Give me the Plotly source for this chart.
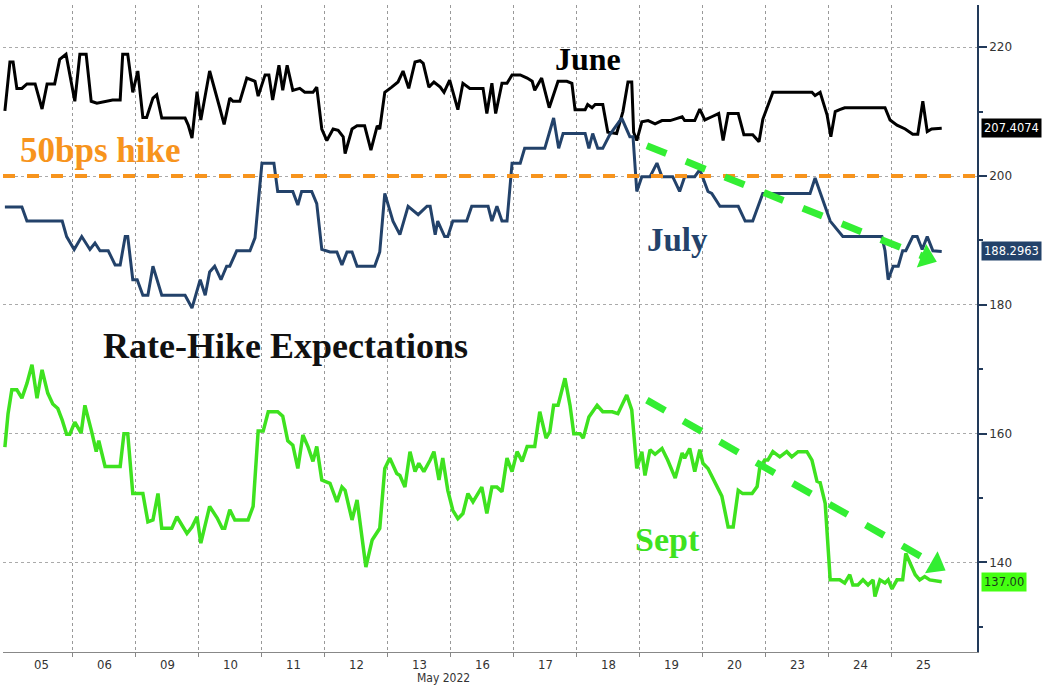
import plotly.graph_objects as go

# ---- data (x = trading-day index, fractional intraday; day 0 = May 05) ----
day_labels = ["05", "06", "09", "10", "11", "12", "13", "16", "17", "18", "19", "20", "23", "24", "25"]

june_t = [-0.08, 0.00, 0.05, 0.11, 0.19, 0.27, 0.40, 0.51, 0.59, 0.71, 0.79, 0.89, 1.03, 1.11, 1.21, 1.29,
          1.38, 1.54, 1.63, 1.75, 1.79, 1.87, 1.95, 2.03, 2.11, 2.17, 2.27, 2.33, 2.41, 2.78, 2.83, 2.89,
          2.97, 3.03, 3.17, 3.33, 3.40, 3.49, 3.54, 3.65, 3.76, 3.89, 3.94, 4.05, 4.11, 4.17, 4.27, 4.33,
          4.40, 4.49, 4.60, 4.68, 4.81, 4.87, 4.95, 5.03, 5.13, 5.21, 5.29, 5.32, 5.43, 5.51, 5.63, 5.73,
          5.83, 5.87, 5.95, 6.06, 6.16, 6.24, 6.33, 6.43, 6.51, 6.56, 6.65, 6.73, 6.83, 6.89, 6.98, 7.11,
          7.19, 7.30, 7.51, 7.57, 7.65, 7.71, 7.81, 7.89, 7.97, 8.10, 8.21, 8.29, 8.33, 8.44, 8.56, 8.70,
          8.84, 8.92, 8.97, 9.13, 9.17, 9.24, 9.29, 9.41, 9.49, 9.63, 9.73, 9.81, 9.87, 9.90, 9.95, 10.03,
          10.13, 10.24, 10.35, 10.48, 10.67, 10.71, 10.87, 10.95, 11.03, 11.14, 11.25, 11.32, 11.40, 11.56,
          11.65, 11.79, 11.89, 11.95, 12.11, 12.73, 12.78, 12.86, 12.97, 13.03, 13.10, 13.17, 13.25, 13.89,
          13.97, 14.08, 14.21, 14.33, 14.41, 14.49, 14.56, 14.63, 14.79]
june_v = [210.1, 217.7, 217.7, 213.6, 213.6, 214.3, 214.3, 210.4, 214.3, 214.3, 218.1, 218.9, 211.6, 218.9,
          218.9, 211.6, 211.3, 211.6, 211.8, 211.8, 218.9, 218.9, 213.0, 216.3, 209.1, 209.1, 212.1, 212.6,
          209.0, 209.0, 207.9, 205.9, 213.1, 208.7, 216.3, 210.6, 208.0, 212.1, 211.6, 211.6, 215.2, 214.7,
          212.4, 215.7, 215.7, 211.8, 217.2, 213.3, 217.2, 213.3, 213.6, 213.0, 213.0, 213.8, 207.3, 205.5,
          207.3, 207.1, 206.1, 203.5, 207.3, 207.8, 207.8, 204.0, 207.8, 207.3, 213.0, 213.8, 214.6, 216.3,
          213.6, 217.7, 217.9, 217.5, 213.8, 214.6, 213.8, 213.0, 214.9, 210.3, 214.4, 213.6, 213.6, 209.7,
          214.4, 209.7, 214.4, 214.4, 215.7, 215.7, 215.2, 214.7, 213.3, 215.2, 210.6, 214.7, 214.7, 214.4,
          210.3, 210.3, 211.1, 210.6, 211.1, 211.1, 206.8, 206.6, 210.0, 214.6, 214.6, 206.8, 205.5, 208.4,
          208.6, 208.1, 208.6, 208.6, 209.2, 208.6, 208.6, 210.4, 208.7, 209.2, 209.7, 205.5, 209.7, 209.7,
          206.4, 206.4, 205.3, 208.8, 213.0, 213.0, 212.5, 213.0, 209.5, 206.1, 210.0, 210.3, 210.6, 210.6,
          208.7, 207.9, 207.3, 206.5, 206.5, 211.6, 206.9, 207.3, 207.4074]

july_t = [-0.08, 0.19, 0.27, 0.83, 0.90, 1.02, 1.14, 1.27, 1.35, 1.43, 1.56, 1.67, 1.75, 1.83, 1.87, 1.95,
          2.02, 2.11, 2.19, 2.27, 2.41, 2.78, 2.89, 3.02, 3.10, 3.17, 3.25, 3.35, 3.44, 3.49, 3.60, 3.81,
          3.89, 4.00, 4.19, 4.25, 4.49, 4.57, 4.63, 4.79, 4.87, 4.95, 5.08, 5.19, 5.27, 5.35, 5.43, 5.51,
          5.79, 5.87, 5.95, 6.08, 6.19, 6.32, 6.48, 6.62, 6.67, 6.75, 6.79, 6.90, 6.95, 7.03, 7.25, 7.33,
          7.59, 7.65, 7.73, 7.81, 7.89, 7.97, 8.10, 8.17, 8.49, 8.63, 8.71, 8.78, 9.13, 9.19, 9.25, 9.33,
          9.41, 9.52, 9.71, 9.84, 9.89, 9.95, 10.03, 10.16, 10.27, 10.35, 10.52, 10.63, 10.71, 10.87, 10.95,
          11.08, 11.14, 11.27, 11.56, 11.67, 11.79, 11.95, 12.70, 12.78, 13.02, 13.22, 13.84, 13.89, 13.94,
          14.02, 14.10, 14.17, 14.22, 14.33, 14.40, 14.48, 14.56, 14.65, 14.79]
july_v = [195.2, 195.2, 193.0, 193.0, 190.6, 188.6, 190.6, 188.6, 189.6, 188.4, 188.4, 186.2, 186.2, 190.6,
          190.6, 183.9, 183.9, 181.5, 181.5, 186.0, 181.5, 181.5, 179.5, 183.9, 181.5, 185.1, 186.0, 183.9,
          186.0, 186.0, 188.4, 188.4, 190.4, 202.0, 202.0, 197.6, 197.6, 195.5, 197.6, 197.6, 195.7, 188.6,
          188.2, 188.2, 186.2, 188.2, 188.2, 186.0, 186.0, 188.2, 197.3, 193.0, 190.9, 195.3, 194.0, 195.3,
          195.3, 190.9, 193.0, 190.6, 190.6, 193.0, 193.0, 195.3, 195.3, 193.0, 195.3, 193.0, 193.0, 202.0,
          202.0, 204.3, 204.3, 209.0, 204.3, 206.6, 206.6, 204.3, 206.6, 204.3, 204.3, 206.4, 209.0, 206.1,
          206.1, 197.6, 199.9, 199.9, 202.0, 199.9, 199.9, 197.6, 199.9, 199.9, 201.0, 197.6, 197.3, 195.3,
          195.3, 193.0, 193.0, 197.3, 197.3, 199.7, 193.0, 190.6, 190.6, 188.4, 183.9, 186.0, 186.0, 188.4,
          188.4, 190.6, 190.6, 188.6, 190.6, 188.4, 188.2963]

sept_t = [-0.08, -0.03, 0.03, 0.11, 0.19, 0.27, 0.35, 0.43, 0.51, 0.60, 0.68, 0.76, 0.83, 0.90, 0.95, 1.03,
          1.13, 1.19, 1.30, 1.37, 1.41, 1.51, 1.75, 1.81, 1.87, 1.95, 2.11, 2.19, 2.27, 2.35, 2.41, 2.57,
          2.65, 2.81, 2.89, 2.97, 3.03, 3.10, 3.17, 3.29, 3.37, 3.41, 3.49, 3.57, 3.78, 3.86, 3.94, 4.02,
          4.10, 4.25, 4.33, 4.41, 4.49, 4.57, 4.65, 4.73, 4.81, 4.87, 4.95, 5.08, 5.19, 5.27, 5.32, 5.43,
          5.51, 5.65, 5.75, 5.87, 5.95, 6.03, 6.14, 6.19, 6.27, 6.35, 6.43, 6.49, 6.57, 6.67, 6.73, 6.81,
          6.87, 6.95, 7.03, 7.11, 7.19, 7.27, 7.35, 7.49, 7.57, 7.65, 7.73, 7.81, 7.89, 7.97, 8.05, 8.13,
          8.21, 8.33, 8.41, 8.51, 8.57, 8.63, 8.70, 8.81, 8.89, 8.95, 9.05, 9.10, 9.19, 9.32, 9.41, 9.56,
          9.65, 9.79, 9.87, 9.95, 10.03, 10.08, 10.16, 10.24, 10.35, 10.44, 10.56, 10.67, 10.71, 10.79,
          10.87, 10.95, 11.00, 11.08, 11.22, 11.30, 11.40, 11.48, 11.56, 11.63, 11.78, 11.86, 11.90, 11.98,
          12.03, 12.11, 12.22, 12.33, 12.41, 12.51, 12.65, 12.73, 12.81, 12.86, 12.94, 13.02, 13.17, 13.25,
          13.33, 13.38, 13.46, 13.54, 13.62, 13.70, 13.73, 13.81, 13.89, 13.94, 14.00, 14.08, 14.17, 14.22,
          14.37, 14.44, 14.52, 14.60, 14.79]
sept_v = [157.9, 163.1, 166.8, 166.8, 165.5, 167.8, 170.7, 165.5, 169.9, 166.3, 164.6, 163.9, 162.1, 159.9,
          159.9, 161.8, 160.1, 164.4, 160.2, 157.2, 158.9, 154.9, 154.9, 160.0, 160.0, 150.7, 150.7, 146.3,
          146.6, 150.7, 145.3, 145.3, 147.1, 144.5, 145.5, 147.1, 143.0, 146.0, 148.7, 146.9, 145.3, 145.3,
          148.2, 146.6, 146.6, 148.7, 160.4, 160.4, 163.4, 163.4, 162.7, 158.9, 158.2, 154.6, 159.8, 158.0,
          155.7, 158.0, 152.8, 152.3, 149.4, 151.7, 151.2, 146.6, 149.7, 139.3, 143.5, 145.3, 154.6, 156.2,
          153.8, 153.5, 151.7, 157.2, 154.1, 155.4, 154.1, 155.9, 157.2, 152.8, 156.2, 151.2, 148.1, 146.8,
          147.6, 150.7, 149.4, 151.7, 147.6, 151.7, 151.7, 151.0, 156.2, 154.1, 157.2, 155.7, 158.0, 158.0,
          163.4, 159.3, 160.3, 164.4, 164.4, 168.6, 164.4, 160.0, 160.0, 159.3, 162.6, 164.4, 163.4, 163.4,
          163.1, 166.0, 163.7, 154.6, 157.2, 153.5, 157.5, 156.8, 157.7, 155.9, 153.1, 157.0, 156.2, 157.7,
          154.1, 157.5, 155.4, 154.6, 151.8, 150.3, 145.5, 145.5, 151.2, 150.7, 150.7, 151.8, 154.6, 155.9,
          155.9, 157.2, 156.4, 157.2, 156.4, 157.2, 157.2, 155.9, 152.6, 152.4, 149.2, 137.3, 137.3, 136.8,
          138.1, 136.5, 136.5, 137.3, 136.5, 137.3, 134.7, 137.3, 136.8, 137.3, 135.9, 137.3, 137.3, 141.4,
          138.1, 137.3, 137.8, 137.3, 137.0]

hike_level = 200
y_ticks = [140, 160, 180, 200, 220]

JUNE_C = "#000000"
JULY_C = "#23426a"
SEPT_C = "#3ee21f"
ORANGE = "#f7941d"
ARROW_G = "#33ee33"

fig = go.Figure()

fig.add_trace(go.Scatter(x=june_t, y=june_v, mode="lines", line=dict(color=JUNE_C, width=3),
                         showlegend=False, hoverinfo="skip"))
fig.add_trace(go.Scatter(x=july_t, y=july_v, mode="lines", line=dict(color=JULY_C, width=3),
                         showlegend=False, hoverinfo="skip"))
fig.add_trace(go.Scatter(x=sept_t, y=sept_v, mode="lines", line=dict(color=SEPT_C, width=3.5),
                         showlegend=False, hoverinfo="skip"))

# 50bps hike line
fig.add_shape(type="line", xref="paper", x0=0, x1=1, yref="y", y0=hike_level, y1=hike_level,
              line=dict(color=ORANGE, width=4, dash="dash"))

# green dashed trend arrows
arrows = [((10.11, 204.7), (14.55, 187.3), 111.6), ((10.11, 165.2), (14.70, 139.6), 119.8)]
for (x0, y0), (x1, y1), ang in arrows:
    fig.add_shape(type="line", x0=x0, y0=y0, x1=x1, y1=y1, xref="x", yref="y",
                  line=dict(color=ARROW_G, width=7, dash="dash"))
    fig.add_trace(go.Scatter(x=[x1], y=[y1], mode="markers",
                             marker=dict(symbol="triangle-up", size=22, color=ARROW_G, angle=ang),
                             showlegend=False, hoverinfo="skip"))

serif = "Liberation Serif, Times New Roman, serif"
texts = [
    ("June", 9.17, 218.2, JUNE_C, 32),
    ("50bps hike", 1.44, 204.0, ORANGE, 35),
    ("July", 10.6, 190.1, JULY_C, 33),
    ("Rate-Hike Expectations", 4.37, 173.6, "#111111", 36),
    ("Sept", 10.43, 143.5, SEPT_C, 34),
]
for txt, x, y, c, s in texts:
    fig.add_annotation(x=x, y=y, xref="x", yref="y", text="<b>%s</b>" % txt, showarrow=False,
                       font=dict(family=serif, size=s, color=c))

# last value tags
tags = [(june_v[-1], "%.4f" % june_v[-1], JUNE_C, "white"),
        (july_v[-1], "%.4f" % july_v[-1], JULY_C, "white"),
        (sept_v[-1], "%.2f" % sept_v[-1], "#44ff11", "#1a3a1a")]
for v, txt, bg, fc in tags:
    fig.add_annotation(x=1.004, y=v, xref="paper", yref="y", text=txt, showarrow=False,
                       xanchor="left", bgcolor=bg, borderpad=2,
                       font=dict(family="DejaVu Sans", size=11.5, color=fc))

fig.add_annotation(x=0.452, y=-0.040, xref="paper", yref="paper", text="May 2022",
                   showarrow=False, yanchor="middle",
                   font=dict(family="Liberation Sans Narrow, DejaVu Sans Condensed, sans-serif", size=12,
                             color="#333333"))

fig.update_layout(
    width=1050, height=688,
    margin=dict(l=3, r=73, t=5, b=36),
    paper_bgcolor="white", plot_bgcolor="white",
    xaxis=dict(range=[-0.11, 15.35], tickvals=[i + 0.5 for i in range(len(day_labels))],
               ticktext=day_labels, showgrid=False, zeroline=False, ticks="",
               tickfont=dict(family="Liberation Sans Narrow, DejaVu Sans Condensed, sans-serif", size=13,
                             color="#333333"),
               showline=True, linecolor="#888888", linewidth=1, mirror=False,
               minor=dict(tickvals=list(range(1, 15)), showgrid=True, gridcolor="#999999",
                          griddash="dot", gridwidth=1, ticks="outside", ticklen=4, tickcolor="#888888")),
    yaxis=dict(side="right", range=[126.1, 226.55], tickvals=y_ticks, showgrid=True,
               gridcolor="#aaaaaa", griddash="dot", gridwidth=1, zeroline=False,
               showline=True, linecolor="#223a5a", linewidth=1.5, ticks="outside", ticklen=8,
               tickcolor="#223a5a", tickwidth=2,
               tickfont=dict(family="DejaVu Sans", size=12, color="#333333"),
               minor=dict(tickvals=[130, 150, 170, 190, 210], ticks="outside", ticklen=4,
                          tickcolor="#223a5a")),
)

fig.write_html("out.html", config={"displayModeBar": False},
               post_script="document.body.style.margin='0';document.body.style.overflow='hidden';")
